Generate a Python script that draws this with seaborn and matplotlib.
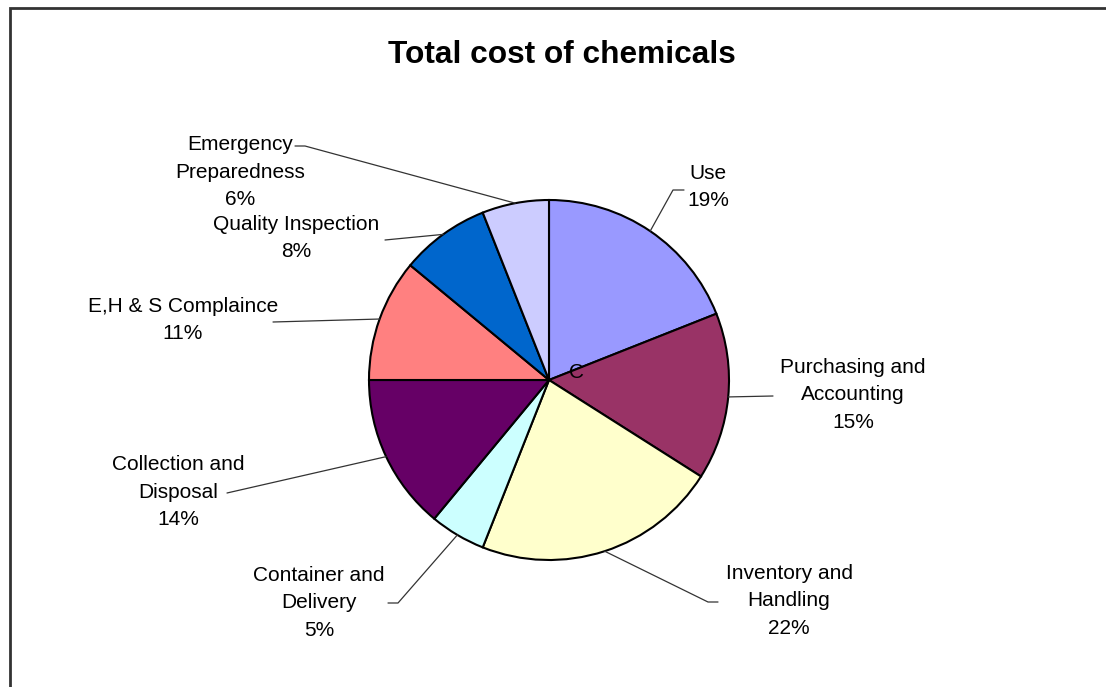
import numpy as np
import matplotlib
matplotlib.use("Agg")
import matplotlib.pyplot as plt
import seaborn as sns
from matplotlib.patches import Rectangle

# data
categories = ["Use", "Purchasing and\nAccounting", "Inventory and\nHandling",
              "Container and\nDelivery", "Collection and\nDisposal",
              "E,H & S Complaince", "Quality Inspection", "Emergency\nPreparedness"]
shares = [19, 15, 22, 5, 14, 11, 8, 6]
colors = ["#9999FF", "#993366", "#FFFFCC", "#CCFFFF", "#660066",
          "#FF8080", "#0066CC", "#CCCCFF"]

sns.set_theme(style="white")
plt.rcParams['font.family'] = ['Liberation Sans', 'DejaVu Sans']

W, H = 1106, 687
fig = plt.figure(figsize=(W / 100, H / 100), dpi=100)
ax = fig.add_axes([0, 0, 1, 1])

# outer frame (right and bottom edges fall outside the picture)
fig.patches.append(Rectangle((10 / W, -0.05), 1.2, 1.05 - 8 / H,
                             transform=fig.transFigure, fill=False,
                             edgecolor="#333333", linewidth=2))

cx, cy, r = 549, H - 380, 180
wedges, _ = ax.pie(shares, colors=colors, startangle=90, counterclock=False,
                   center=(cx, cy), radius=r, frame=True,
                   wedgeprops=dict(edgecolor="black", linewidth=1.5))
ax.set_xlim(0, W)
ax.set_ylim(0, H)
ax.set_aspect("equal")
ax.axis("off")

# label layout: text centre and leader elbow points (pixel coords, y down)
label_pos = [(708, 187), (853, 395), (789, 601), (319, 603),
             (178, 492), (183, 320), (296, 238), (240, 172)]
elbows = [[(673, 190), (684, 190)],
          [(773, 396)],
          [(708, 602), (718, 602)],
          [(398, 603), (388, 603)],
          [(227, 493)],
          [(273, 322)],
          [(385, 240)],
          [(305, 146), (295, 146)]]

for w, name, val, (tx, ty), pts in zip(wedges, categories, shares, label_pos, elbows):
    ang = np.deg2rad((w.theta1 + w.theta2) / 2)
    x0, y0 = cx + r * np.cos(ang), cy + r * np.sin(ang)
    xs = [x0] + [p[0] for p in pts]
    ys = [y0] + [H - p[1] for p in pts]
    ax.plot(xs, ys, color="#333333", linewidth=0.9, zorder=1)
    ax.text(tx, H - ty, f"{name}\n{val}%", ha="center", va="center",
            fontsize=15, linespacing=1.55, color="black")

ax.text(577, H - 372, "C", ha="center", va="center", fontsize=15, color="black")

ax.text(562, H - 55, "Total cost of chemicals", ha="center", va="center",
        fontsize=22.8, fontweight="bold", color="black")

fig.savefig("out.png", dpi=100)
